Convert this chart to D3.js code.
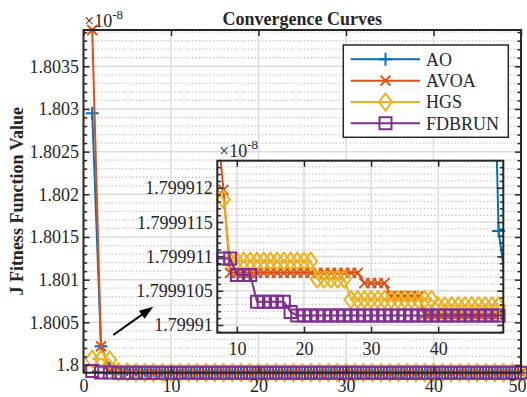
<!DOCTYPE html>
<html><head><meta charset="utf-8">
<script src="https://cdn.jsdelivr.net/npm/d3@7"></script>
<style>
body{margin:0;background:#fff}
svg{display:block}
text{font-family:"Liberation Serif","Times New Roman",serif;fill:#262626}
</style>
</head><body>
<svg id="c" width="527" height="397"></svg>
<script>
// ---------------- data (values shown in units of 1e-8) ----------------
const iterations = d3.range(1, 51);
const seriesNames = ["AO", "AVOA", "HGS", "FDBRUN"];
const AO = [
  1.80295, 1.80022, 1.79996, 1.79995, 1.799945, 1.79994, 1.799936, 1.799932, 1.79993, 1.799928,
  1.799926, 1.799925, 1.799924, 1.799923, 1.799922, 1.799921, 1.79992, 1.79992, 1.799919, 1.799919,
  1.799918, 1.799918, 1.799918, 1.799917, 1.799917, 1.799917, 1.799917, 1.7999168, 1.7999168, 1.7999166,
  1.7999166, 1.7999164, 1.7999164, 1.7999162, 1.7999162, 1.799916, 1.799916, 1.799916, 1.7999158, 1.7999158,
  1.7999158, 1.7999156, 1.7999156, 1.7999156, 1.7999155, 1.7999155, 1.7999155, 1.7999154, 1.79991137, 1.79991067
];
const AVOA = [
  1.803925, 1.80022, 1.79995, 1.79993, 1.79992, 1.799915, 1.799913, 1.79991197, 1.79991076, 1.79991076,
  1.79991076, 1.79991076, 1.79991076, 1.79991076, 1.79991076, 1.79991076, 1.79991076, 1.79991076, 1.79991076, 1.79991076,
  1.79991076, 1.79991076, 1.79991076, 1.79991076, 1.79991076, 1.79991076, 1.79991076, 1.79991076, 1.79991061, 1.79991061,
  1.79991061, 1.79991061, 1.79991042, 1.79991042, 1.79991042, 1.79991042, 1.79991042, 1.79991016, 1.79991016, 1.79991016,
  1.79991016, 1.79991016, 1.79991016, 1.79991016, 1.79991016, 1.79991016, 1.79991016, 1.79991016, 1.79991016, 1.79991016
];
const HGS = [
  1.80007, 1.80007, 1.80006, 1.79992, 1.799918, 1.799915, 1.799912, 1.79991183, 1.79991093, 1.79991093,
  1.79991093, 1.79991093, 1.79991093, 1.79991093, 1.79991093, 1.79991093, 1.79991093, 1.79991093, 1.79991093, 1.79991093,
  1.79991093, 1.79991067, 1.79991067, 1.79991067, 1.79991067, 1.79991067, 1.79991037, 1.79991037, 1.79991037, 1.79991037,
  1.79991037, 1.79991037, 1.79991037, 1.79991037, 1.79991037, 1.79991037, 1.79991037, 1.79991037, 1.79991037, 1.79991028,
  1.79991028, 1.79991028, 1.79991028, 1.79991028, 1.79991028, 1.79991028, 1.79991028, 1.79991028, 1.79991028, 1.79991028
];
const FDBRUN = [
  1.79993, 1.799912, 1.7999115, 1.79991097, 1.79991097, 1.79991097, 1.79991097, 1.79991097, 1.79991097, 1.79991073,
  1.79991073, 1.79991073, 1.79991034, 1.79991034, 1.79991034, 1.79991034, 1.79991034, 1.79991019, 1.79991014, 1.79991014,
  1.79991014, 1.79991014, 1.79991014, 1.79991014, 1.79991014, 1.79991014, 1.79991014, 1.79991014, 1.79991014, 1.79991014,
  1.79991014, 1.79991014, 1.79991014, 1.79991014, 1.79991014, 1.79991014, 1.79991014, 1.79991014, 1.79991014, 1.79991014,
  1.79991014, 1.79991014, 1.79991014, 1.79991014, 1.79991014, 1.79991014, 1.79991014, 1.79991014, 1.79991014, 1.79991014
];
const xTicks = [0, 10, 20, 30, 40, 50];
const xTickLabels = ["0", "10", "20", "30", "40", "50"];
const yTicks = [1.8, 1.8005, 1.801, 1.8015, 1.802, 1.8025, 1.803, 1.8035];
const yTickLabels = ["1.8", "1.8005", "1.801", "1.8015", "1.802", "1.8025", "1.803", "1.8035"];
const insetXTicks = [10, 20, 30, 40];
const insetXTickLabels = ["10", "20", "30", "40"];
const insetYTicks = [1.79991, 1.7999105, 1.799911, 1.7999115, 1.799912];
const insetYTickLabels = ["1.79991", "1.7999105", "1.799911", "1.7999115", "1.799912"];
const titleText = "Convergence Curves";
const yLabelText = "J Fitness Function Value";

// ---------------- styling ----------------
const colors = ["#0072BD", "#D95319", "#EDB120", "#7E2F8E"];
const markers = ["plus", "cross", "diamond", "square"];
const seriesData = [AO, AVOA, HGS, FDBRUN];
const AX = "#262626";
const svg = d3.select("#c");

const M = {l: 83.5, r: 521, t: 30, b: 372.7};
const INS = {l: 217.3, r: 503.3, t: 160.7, b: 332.7};

const x = d3.scaleLinear().domain([0, 50]).range([M.l, M.r]);
const y = d3.scaleLinear().domain(d3.extent(seriesData.flat())).range([M.b, M.t]);
const xi = d3.scaleLinear().domain([7.08, 49.7]).range([INS.l, INS.r]);
const yi = d3.scaleLinear().domain([1.7999098878, 1.799912395]).range([INS.b, INS.t]);

function markerPath(type, cx, cy) {
  if (type === "plus") return `M${cx-6.5},${cy}H${cx+6.5}M${cx},${cy-6.5}V${cy+6.5}`;
  if (type === "cross") return `M${cx-5},${cy-5}L${cx+5},${cy+5}M${cx-5},${cy+5}L${cx+5},${cy-5}`;
  if (type === "diamond") return `M${cx},${cy-8.5}L${cx+6.5},${cy}L${cx},${cy+8.5}L${cx-6.5},${cy}Z`;
  return `M${cx-6},${cy-6}H${cx+6}V${cy+6}H${cx-6}Z`;
}

function minorValues(domain, step, start, majors) {
  const out = [];
  for (let k = -2; k < 60; k++) {
    const v = start + k * step;
    if (v >= domain[0] && v <= domain[1] && !majors.some(m => Math.abs(m - v) < step * 0.01)) out.push(v);
  }
  return out;
}

function drawPanel(g, xs, ys, box, opts) {
  const xT = opts.xTicks, yT = opts.yTicks;
  const yMinor = minorValues(ys.domain(), opts.minorStep, opts.minorStart, yT);
  // grid
  const grid = g.append("g");
  grid.selectAll(".ymn").data(yMinor).join("line")
    .attr("x1", box.l).attr("x2", box.r).attr("y1", d => ys(d)).attr("y2", d => ys(d))
    .attr("stroke", "#c4c4c4").attr("stroke-width", 1.3).attr("stroke-dasharray", "1.3,2.2");
  grid.selectAll(".ymj").data(yT).join("line")
    .attr("x1", box.l).attr("x2", box.r).attr("y1", d => ys(d)).attr("y2", d => ys(d))
    .attr("stroke", "#dcdcdc").attr("stroke-width", 1.5);
  grid.selectAll(".xmj").data(xT.filter(v => xs(v) > box.l + 1 && xs(v) < box.r - 1)).join("line")
    .attr("y1", box.t).attr("y2", box.b).attr("x1", d => xs(d)).attr("x2", d => xs(d))
    .attr("stroke", "#dcdcdc").attr("stroke-width", 1.5);

  // series
  const clipId = "clip" + opts.id;
  g.append("clipPath").attr("id", clipId).append("rect")
    .attr("x", box.l).attr("y", box.t).attr("width", box.r - box.l).attr("height", box.b - box.t);
  const [xd0, xd1] = xs.domain(), [yd0, yd1] = ys.domain();
  seriesData.forEach((data, si) => {
    const pts = iterations.map((it, i) => [it, data[i]]);
    const sg = g.append("g");
    sg.append("path").datum(pts)
      .attr("d", d3.line().x(d => xs(d[0])).y(d => ys(d[1])))
      .attr("fill", "none").attr("stroke", colors[si]).attr("stroke-width", 2)
      .attr("stroke-linejoin", "round")
      .attr("clip-path", opts.clip ? `url(#${clipId})` : null);
    sg.selectAll(".mk").data(pts.filter(d => d[0] >= xd0 && d[0] <= xd1 && d[1] >= yd0 && d[1] <= yd1))
      .join("path")
      .attr("d", d => markerPath(markers[si], xs(d[0]), ys(d[1])))
      .attr("fill", "none").attr("stroke", colors[si]).attr("stroke-width", 2);
  });

  // axes ticks
  const ax = g.append("g");
  const fmtX = d => opts.xLabels[xT.indexOf(d)];
  const fmtY = d => opts.yLabels[yT.indexOf(d)];
  const bottom = ax.append("g").attr("transform", `translate(0,${box.b})`)
    .call(d3.axisBottom(xs).tickValues(xT).tickFormat(fmtX).tickSize(-6).tickSizeOuter(0));
  bottom.selectAll("text").attr("y", opts.xLabelOffset).attr("dy", 0)
    .attr("x", d => Math.min(0, opts.maxRight - xs(d) - 9));
  ax.append("g").attr("transform", `translate(0,${box.t})`)
    .call(d3.axisTop(xs).tickValues(xT).tickFormat("").tickSize(-6).tickSizeOuter(0));
  ax.append("g").attr("transform", `translate(${box.l},0)`)
    .call(d3.axisLeft(ys).tickValues(yT).tickFormat(fmtY).tickSize(-6).tickSizeOuter(0).tickPadding(4.5))
    .selectAll("text").attr("dy", "0.33em");
  ax.append("g").attr("transform", `translate(${box.l},0)`)
    .call(d3.axisLeft(ys).tickValues(yMinor).tickFormat("").tickSize(-3.5).tickSizeOuter(0));
  ax.append("g").attr("transform", `translate(${box.r},0)`)
    .call(d3.axisRight(ys).tickValues(yT).tickFormat("").tickSize(-6).tickSizeOuter(0));
  ax.append("g").attr("transform", `translate(${box.r},0)`)
    .call(d3.axisRight(ys).tickValues(yMinor).tickFormat("").tickSize(-3.5).tickSizeOuter(0));
  ax.selectAll(".domain").remove();
  ax.selectAll(".tick line").attr("stroke", AX).attr("stroke-width", 1.5);
  ax.selectAll(".tick text").attr("font-size", 18).attr("fill", AX)
    .attr("font-family", '"Liberation Serif","Times New Roman",serif');
  g.append("rect").attr("x", box.l).attr("y", box.t).attr("width", box.r - box.l).attr("height", box.b - box.t)
    .attr("fill", "none").attr("stroke", AX).attr("stroke-width", 2);

  // exponent label
  const ex = g.append("text").attr("x", opts.expX).attr("y", opts.expY).attr("font-size", 18);
  ex.append("tspan").text("\u00d710");
  ex.append("tspan").attr("font-size", 13).attr("dy", -8).text("-8");
}

// main panel
const mainG = svg.append("g");
drawPanel(mainG, x, y, M, {
  id: "main", xTicks: xTicks, yTicks: yTicks, xLabels: xTickLabels, yLabels: yTickLabels,
  minorStep: 0.0001, minorStart: 1.7999, clip: false, expX: 84, expY: 26.7, xLabelOffset: 19.8, maxRight: 526
});

// title and y label
svg.append("text").attr("x", (M.l + M.r) / 2).attr("y", 25).attr("text-anchor", "middle")
  .attr("font-size", 18).attr("font-weight", "bold").attr("fill", "#000").text(titleText);
svg.append("text").attr("transform", `translate(22.5,${(M.t + M.b) / 2}) rotate(-90)`)
  .attr("text-anchor", "middle").attr("font-size", 18).attr("font-weight", "bold").attr("fill", "#000")
  .text(yLabelText);

// legend
const LG = {x: 343.3, y: 45, w: 165, h: 92.3};
const lg = svg.append("g");
lg.append("rect").attr("x", LG.x).attr("y", LG.y).attr("width", LG.w).attr("height", LG.h)
  .attr("fill", "#fff").attr("stroke", AX).attr("stroke-width", 1.5);
seriesNames.forEach((name, i) => {
  const cy = 59.3 + i * 21.35;
  lg.append("line").attr("x1", 350.7).attr("x2", 420).attr("y1", cy).attr("y2", cy)
    .attr("stroke", colors[i]).attr("stroke-width", 2);
  lg.append("path").attr("d", markerPath(markers[i], 385.5, cy))
    .attr("fill", "none").attr("stroke", colors[i]).attr("stroke-width", 2);
  lg.append("text").attr("x", 426).attr("y", cy + 6.3).attr("font-size", 18).attr("fill", "#000").text(name);
});

// inset panel
const insG = svg.append("g");
insG.append("rect").attr("x", INS.l).attr("y", INS.t).attr("width", INS.r - INS.l).attr("height", INS.b - INS.t)
  .attr("fill", "#fff");
drawPanel(insG, xi, yi, INS, {
  id: "inset", xTicks: insetXTicks, yTicks: insetYTicks, xLabels: insetXTickLabels, yLabels: insetYTickLabels,
  minorStep: 0.0000001, minorStart: 1.79991, clip: true, expX: 219, expY: 156.5, xLabelOffset: 22, maxRight: 600
});

// arrow (in main-axes data coordinates)
const arrowTail = [3.4, 1.8003518], arrowHead = [7.97, 1.8006834];
(function () {
  const x0 = x(arrowTail[0]), y0 = y(arrowTail[1]), x1 = x(arrowHead[0]), y1 = y(arrowHead[1]);
  const dx = x1 - x0, dy = y1 - y0, L = Math.hypot(dx, dy), ux = dx / L, uy = dy / L;
  const hl = 14, hw = 5;
  const bx = x1 - ux * hl, by = y1 - uy * hl;
  svg.append("line").attr("x1", x0).attr("y1", y0).attr("x2", bx + ux * 2).attr("y2", by + uy * 2)
    .attr("stroke", "#000").attr("stroke-width", 2);
  svg.append("path").attr("d", `M${x1},${y1}L${bx - uy * hw},${by + ux * hw}L${bx + uy * hw},${by - ux * hw}Z`)
    .attr("fill", "#000");
})();
</script>
</body></html>
